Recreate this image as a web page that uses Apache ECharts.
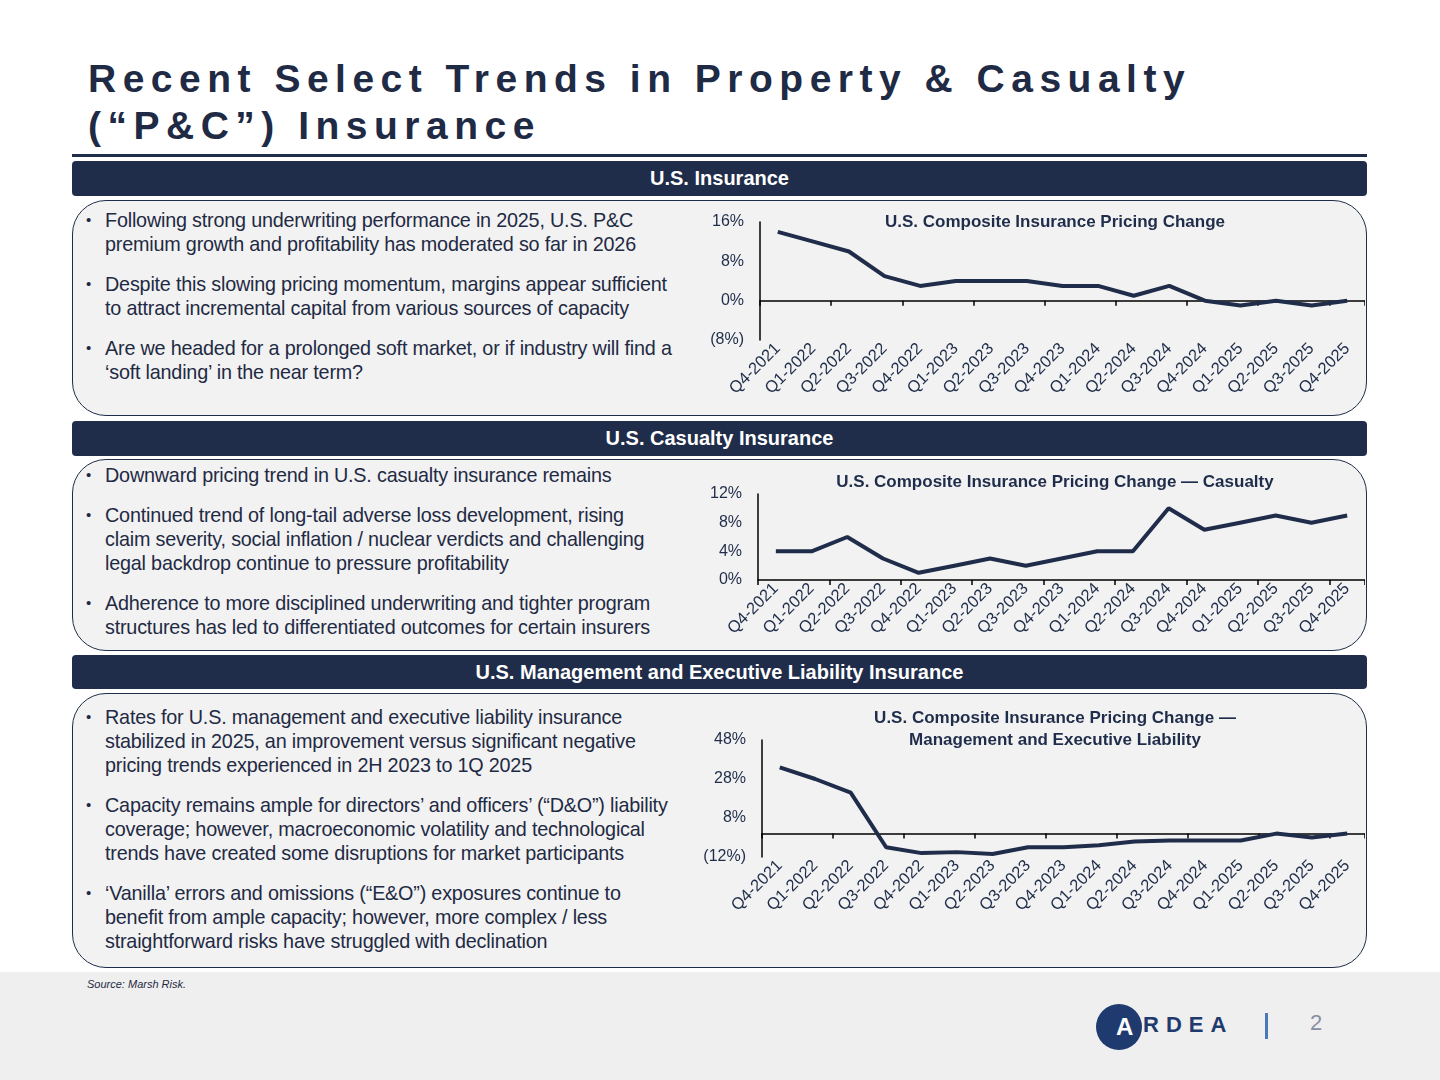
<!DOCTYPE html>
<html><head><meta charset="utf-8">
<script src="https://cdn.jsdelivr.net/npm/echarts@6/dist/echarts.min.js"></script>
<style>
body{margin:0;width:1440px;height:1080px;position:relative;font-family:"Liberation Sans",Arial,sans-serif;background:#fff;overflow:hidden;color:#1f2a44}
.abs{position:absolute}
h1{position:absolute;left:88px;top:55px;margin:0;font-size:39px;line-height:47px;letter-spacing:6.5px;font-weight:bold;color:#1f2a44}
.bar{position:absolute;left:72px;width:1295px;background:#1f2d4a;color:#fff;font-weight:bold;font-size:20px;text-align:center;border-radius:4px}
.panel{position:absolute;left:72px;width:1293px;background:#f2f2f2;border:1.5px solid #1f2d4a;border-radius:34px}
ul{position:absolute;left:86px;margin:0;padding:0;list-style:none;font-size:19.8px;line-height:24px;color:#1f2a44;letter-spacing:-0.2px}
li{position:relative;padding-left:19px;margin-bottom:16px}
li:before{content:"•";position:absolute;left:0;font-size:15px}
.ch{position:absolute;left:700px;width:665px}
</style></head><body>
<div class="abs" style="left:0;top:972px;width:1440px;height:108px;background:#efefef"></div>
<h1>Recent Select Trends in Property &amp; Casualty<br>(“P&amp;C”) Insurance</h1>
<div class="abs" style="left:72px;top:154px;width:1295px;height:3px;background:#1f2d4a"></div>

<div class="bar" style="top:161px;height:35px;line-height:35px">U.S. Insurance</div>
<div class="panel" style="top:200px;height:214px"></div>
<ul style="top:208px;width:598px">
<li>Following strong underwriting performance in 2025, U.S. P&amp;C premium growth and profitability has moderated so far in 2026</li>
<li>Despite this slowing pricing momentum, margins appear sufficient to attract incremental capital from various sources of capacity</li>
<li>Are we headed for a prolonged soft market, or if industry will find a ‘soft landing’ in the near term?</li>
</ul>
<div id="c1" class="ch" style="top:200px;height:212px"></div>

<div class="bar" style="top:421px;height:35px;line-height:35px">U.S. Casualty Insurance</div>
<div class="panel" style="top:459px;height:190px"></div>
<ul style="top:463px;width:585px">
<li>Downward pricing trend in U.S. casualty insurance remains</li>
<li>Continued trend of long-tail adverse loss development, rising claim severity, social inflation / nuclear verdicts and challenging legal backdrop continue to pressure profitability</li>
<li>Adherence to more disciplined underwriting and tighter program structures has led to differentiated outcomes for certain insurers</li>
</ul>
<div id="c2" class="ch" style="top:460px;height:190px"></div>

<div class="bar" style="top:655px;height:34px;line-height:34px">U.S. Management and Executive Liability Insurance</div>
<div class="panel" style="top:693px;height:273px"></div>
<ul style="top:705px;width:595px">
<li>Rates for U.S. management and executive liability insurance stabilized in 2025, an improvement versus significant negative pricing trends experienced in 2H 2023 to 1Q 2025</li>
<li>Capacity remains ample for directors’ and officers’ (“D&amp;O”) liability coverage; however, macroeconomic volatility and technological trends have created some disruptions for market participants</li>
<li>‘Vanilla’ errors and omissions (“E&amp;O”) exposures continue to benefit from ample capacity; however, more complex / less straightforward risks have struggled with declination</li>
</ul>
<div id="c3" class="ch" style="top:695px;height:270px"></div>

<div class="abs" style="left:87px;top:978px;font-size:11px;font-style:italic;color:#1f2a44">Source: Marsh Risk.</div>
<div class="abs" style="left:1096px;top:1004px;width:46px;height:46px;border-radius:50%;background:#1f3a6e;color:#fff;font-size:24px;font-weight:bold;line-height:46px;padding-left:20px;box-sizing:border-box">A</div>
<div class="abs" style="left:1143px;top:1012px;font-size:22px;font-weight:bold;letter-spacing:7px;color:#1f3a6e">RDEA</div>
<div class="abs" style="left:1265px;top:1013px;width:3px;height:26px;background:#4a78b8"></div>
<div class="abs" style="left:1310px;top:1010px;font-size:22px;color:#8a8fa0">2</div>

<script>
const quarters = ['Q4-2021','Q1-2022','Q2-2022','Q3-2022','Q4-2022','Q1-2023','Q2-2023','Q3-2023','Q4-2023','Q1-2024','Q2-2024','Q3-2024','Q4-2024','Q1-2025','Q2-2025','Q3-2025','Q4-2025'];
const compositeValues = [14,12,10,5,3,4,4,4,3,3,1,3,0,-1,0,-1,0];
const casualtyValues = [4,4,6,3,1,2,3,2,3,4,4,10,7,8,9,8,9];
const mgmtValues = [34,28,21,-7,-10,-9.5,-10.5,-7,-7,-6,-4,-3.5,-3.5,-3.5,0,-2,0];
const navy = '#1f2d4a';
const pct = v => v < 0 ? '(' + Math.abs(v) + '%)' : v + '%';

function draw(id, title, values, ymin, ymax, step, grid, titleTop) {
  const chart = echarts.init(document.getElementById(id));
  chart.setOption({
    animation: false,
    title: {text: title, left: 350, top: titleTop, textAlign: 'center',
      textStyle: {color: navy, fontSize: 17, fontWeight: 'bold', lineHeight: 22, fontFamily: 'Liberation Sans'}},
    grid: grid,
    xAxis: [
      {type: 'category', data: quarters, position: 'bottom', axisLine: {onZero: true, lineStyle: {color: '#000', width: 1.5}},
        axisTick: {show: true, length: 5, lineStyle: {color: '#000', width: 1.5}}, axisLabel: {show: false}},
      {type: 'category', data: quarters, position: 'bottom', axisLine: {show: false, onZero: false}, axisTick: {show: false},
        axisLabel: {rotate: 45, color: navy, fontSize: 16.5, fontFamily: 'Liberation Sans', margin: 6, interval: 0}}
    ],
    yAxis: {type: 'value', min: ymin, max: ymax, interval: step, splitLine: {show: false},
      axisLine: {show: true, onZero: false, lineStyle: {color: '#000', width: 1.5}}, axisTick: {show: false},
      axisLabel: {formatter: pct, color: navy, fontSize: 16, fontFamily: 'Liberation Sans', margin: 16}},
    series: [{type: 'line', data: values, xAxisIndex: 0, symbol: 'none',
      lineStyle: {color: navy, width: 4}}]
  });
}
draw('c1', 'U.S. Composite Insurance Pricing Change', compositeValues, -8, 16, 8,
  {left: 60, right: 0, top: 22, height: 118}, 6);
draw('c2', 'U.S. Composite Insurance Pricing Change — Casualty', casualtyValues, 0, 12, 4,
  {left: 58, right: 0, top: 34, height: 86}, 6);
draw('c3', 'U.S. Composite Insurance Pricing Change —\nManagement and Executive Liability', mgmtValues, -12, 48, 20,
  {left: 62, right: 0, top: 45, height: 117}, 7);
</script>
</body></html>
